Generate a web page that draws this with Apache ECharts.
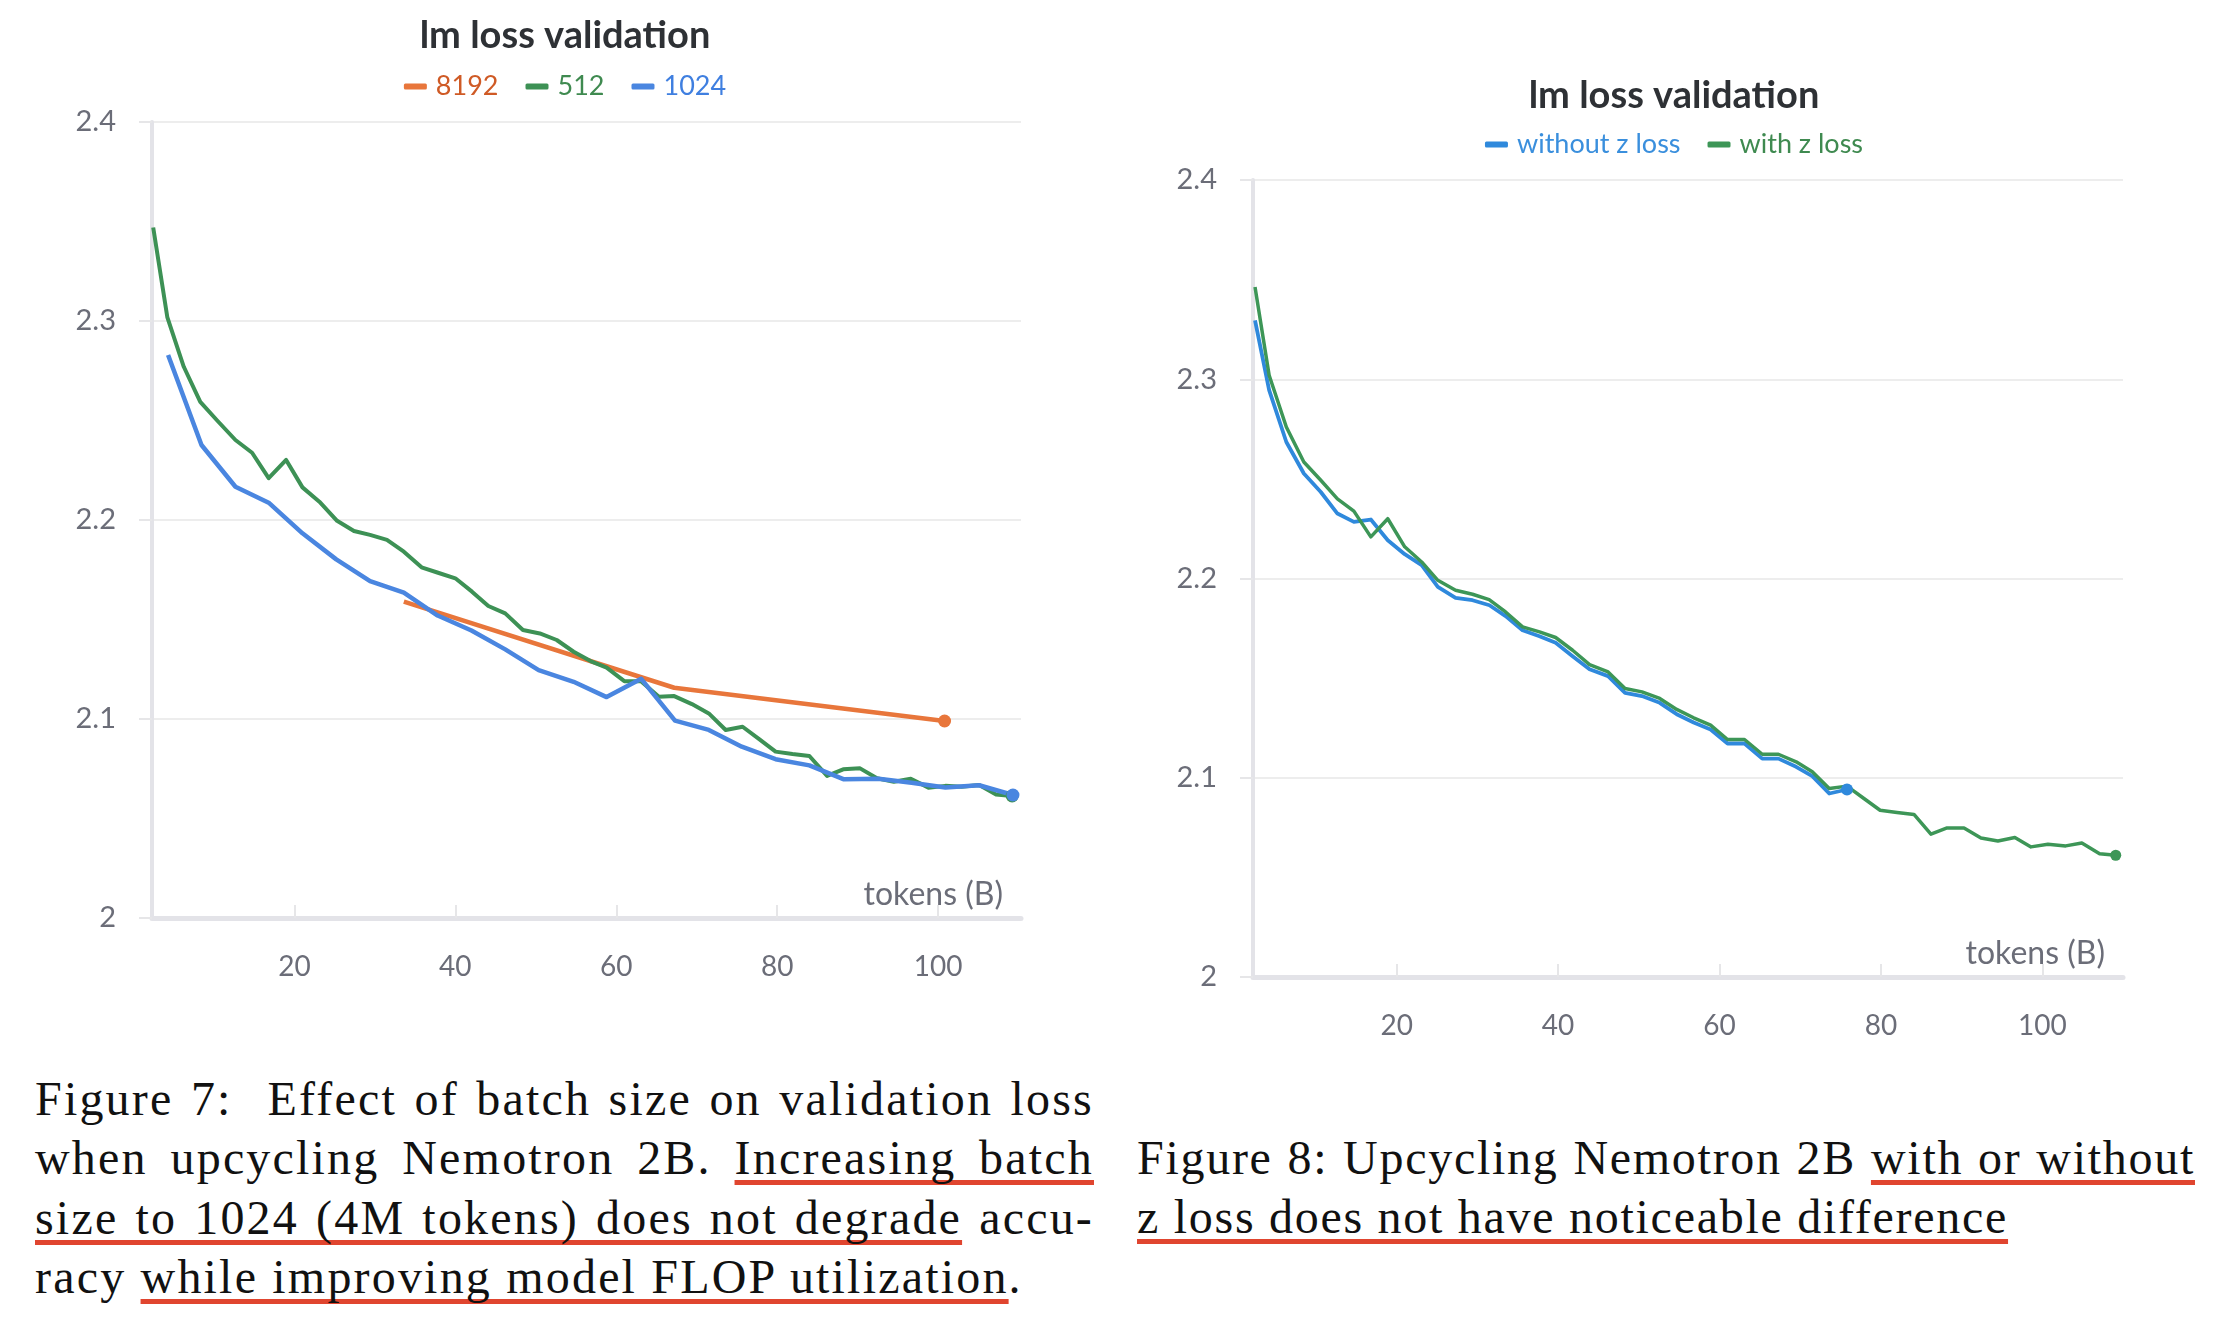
<!DOCTYPE html>
<html>
<head>
<meta charset="utf-8">
<script src="https://cdn.jsdelivr.net/npm/echarts@6/dist/echarts.min.js"></script>
<style>
  html, body { margin: 0; padding: 0; background: #ffffff; }
  body { width: 2228px; height: 1336px; position: relative; overflow: hidden; }
  #c1 { position: absolute; left: 0; top: 0; width: 1130px; height: 1040px; }
  #c2 { position: absolute; left: 1120px; top: 0; width: 1108px; height: 1040px; }
  .cap { position: absolute; font-family: "Liberation Serif", "DejaVu Serif", serif; font-size: 48px; line-height: 59.3px; color: #111; }
  .ln { white-space: nowrap; }
  .j { text-align: justify; text-align-last: justify; }
  .cap u { text-decoration: underline; text-decoration-color: #e0452f; text-decoration-thickness: 5px; text-underline-offset: 6px; text-decoration-skip-ink: none; }
</style>
</head>
<body>
<div id="c1"></div>
<div id="c2"></div>
<div class="cap" id="cap1" style="left:35px; top:1069px; width:1059px;">
  <div class="ln j">Figure 7:&nbsp; Effect of batch size on validation loss</div>
  <div class="ln j">when upcycling Nemotron 2B. <u>Increasing batch</u></div>
  <div class="ln j"><u>size to 1024 (4M tokens) does not degrade</u> accu-</div>
  <div class="ln" id="last1">racy <u>while improving model FLOP utilization</u>.</div>
</div>
<div class="cap" id="cap2" style="left:1137px; top:1128px; width:1058px;">
  <div class="ln j">Figure 8: Upcycling Nemotron 2B <u>with or without</u></div>
  <div class="ln" id="last2"><u>z loss does not have noticeable difference</u></div>
</div>
<script>
// ---------- Figure 7 data (tokens in B, lm loss validation) ----------
const bs8192_x = [33.6, 67.2, 100.8];
const bs8192_y = [2.159, 2.1157, 2.099];

const bs512_x = [2.45, 4.2, 6.25, 8.3, 10.4, 12.67, 14.74, 16.8, 18.97, 21.0, 23.1, 25.3, 27.4, 29.4, 31.5, 33.6, 35.8, 37.85, 40.0, 42.07,
  44.1, 46.2, 48.4, 50.5, 52.6, 54.7, 56.8, 58.8, 61.0, 63.07, 65.3, 67.2, 69.4, 71.5, 73.6, 75.7, 77.8, 79.8, 81.9, 84.0,
  86.2, 88.2, 90.3, 92.4, 94.5, 96.6, 98.8, 100.9, 102.9, 105.1, 107.2, 109.2];
const bs512_y = [2.347, 2.302, 2.277, 2.2594, 2.250, 2.2402, 2.2338, 2.221, 2.2302, 2.2164, 2.2092, 2.1996, 2.1945, 2.1925, 2.190, 2.1841, 2.1762, 2.1735, 2.1707, 2.164,
  2.1568, 2.1531, 2.1447, 2.143, 2.1397, 2.1338, 2.1291, 2.1258, 2.119, 2.119, 2.1112, 2.1115, 2.1075, 2.1028, 2.0945, 2.0961, 2.0898, 2.0836, 2.0824, 2.0814,
  2.0714, 2.0747, 2.0752, 2.0702, 2.0685, 2.070, 2.0655, 2.0664, 2.066, 2.0668, 2.0621, 2.0613];

const bs1024_x = [4.3, 8.45, 12.67, 16.8, 21.0, 25.2, 29.4, 33.6, 37.8, 42.0, 46.2, 50.35, 54.7, 58.8, 63.1, 67.3, 71.5, 75.6, 79.8, 84.0,
  88.3, 92.6, 96.7, 100.9, 105.1, 109.3];
const bs1024_y = [2.2829, 2.2377, 2.2167, 2.2087, 2.1933, 2.1802, 2.1693, 2.1635, 2.152, 2.1445, 2.135, 2.1246, 2.1187, 2.111, 2.1202, 2.0992, 2.0945, 2.0861, 2.0798, 2.0767,
  2.0697, 2.070, 2.068, 2.0656, 2.0667, 2.0618];

// ---------- Figure 8 data ----------
const noz_x = [2.45, 4.2, 6.33, 8.5, 10.6, 12.66, 14.7, 16.8, 18.9, 21.0, 23.1, 25.1, 27.3, 29.4, 31.5, 33.5, 35.6, 37.7, 39.7, 41.8,
  43.9, 46.2, 48.3, 50.4, 52.6, 54.7, 56.8, 58.9, 61.0, 63.1, 65.3, 67.3, 69.5, 71.5, 73.6, 75.8];
const noz_y = [2.3296, 2.2945, 2.2685, 2.2527, 2.2434, 2.2326, 2.2284, 2.2296, 2.2192, 2.2122, 2.2067, 2.1958, 2.1903, 2.1891, 2.1866, 2.1811, 2.174, 2.171, 2.1677, 2.161,
  2.1545, 2.151, 2.1426, 2.141, 2.1376, 2.1319, 2.1277, 2.1242, 2.1172, 2.1172, 2.1096, 2.1096, 2.1055, 2.1008, 2.0921, 2.0941];

const z_x = [2.45, 4.2, 6.33, 8.5, 10.6, 12.66, 14.7, 16.8, 18.9, 21.0, 23.1, 25.1, 27.3, 29.4, 31.46, 33.5, 35.6, 37.7, 39.7, 41.8,
  43.9, 46.2, 48.3, 50.4, 52.6, 54.7, 56.8, 58.9, 61.0, 63.1, 65.3, 67.3, 69.5, 71.5, 73.6, 75.8, 77.9, 79.9, 82.0, 84.1,
  86.2, 88.2, 90.3, 92.4, 94.5, 96.6, 98.6, 100.7, 102.9, 104.9, 107.1, 109.1];
const z_y = [2.3463, 2.302, 2.276, 2.2585, 2.2493, 2.240, 2.2338, 2.2209, 2.230, 2.2159, 2.2083, 2.1991, 2.1941, 2.1921, 2.1894, 2.1832, 2.1757, 2.1732, 2.1704, 2.164,
  2.1568, 2.1531, 2.1448, 2.1431, 2.1398, 2.1343, 2.1301, 2.1264, 2.1192, 2.1192, 2.1118, 2.1118, 2.108, 2.103, 2.0946, 2.0958, 2.0896, 2.0837, 2.0826, 2.0816,
  2.0717, 2.0748, 2.0748, 2.0698, 2.0683, 2.07, 2.0653, 2.0666, 2.0658, 2.0673, 2.0619, 2.0611];

const xTickValues = [20, 40, 60, 80, 100];
const yTickLabels = ['2', '2.1', '2.2', '2.3', '2.4'];

const FONT = 'Lato, "Noto Sans", sans-serif';
const LABEL_COLOR = '#6b6d78';

function zip(xs, ys) { return xs.map((x, i) => [x, ys[i]]); }

function lineSeries(name, xs, ys, color, width, dot) {
  const last = xs.length - 1;
  return {
    type: 'line', name: name, data: zip(xs, ys), color: color,
    lineStyle: { width: width, color: color, join: 'round' },
    symbol: 'circle', showSymbol: true, showAllSymbol: true,
    symbolSize: function (v, p) { return p.dataIndex === last ? dot : 0; },
    itemStyle: { color: color },
    silent: true, animation: false, emphasis: { disabled: true }
  };
}

function baseOption(g, xmin, xmax, titleTop, legendTop, legendItems) {
  return {
    animation: false,
    title: {
      text: 'lm loss validation', left: 'center', top: titleTop,
      textStyle: { fontFamily: FONT, fontWeight: 'bold', fontSize: 38, color: '#2e3135' }
    },
    legend: {
      left: 'center', top: legendTop, icon: 'roundRect', itemWidth: 23, itemHeight: 6, itemGap: 27,
      selectedMode: false,
      textStyle: { fontFamily: FONT, fontSize: 27, padding: [0, 0, 0, 4] },
      data: legendItems.map(it => ({ name: it.name, textStyle: { color: it.color } }))
    },
    grid: g,
    xAxis: {
      type: 'value', min: xmin, max: xmax,
      axisLine: { show: true, onZero: false, lineStyle: { color: '#e3e3e8', width: 5 } },
      axisTick: { show: true, inside: true, length: 13, customValues: xTickValues, lineStyle: { color: '#e6e6e8', width: 2 } },
      axisLabel: { customValues: xTickValues, margin: 35, fontFamily: FONT, fontSize: 28, color: LABEL_COLOR },
      splitLine: { show: false },
      name: 'tokens (B)', nameLocation: 'end', nameGap: -18,
      nameTextStyle: { align: 'right', verticalAlign: 'bottom', padding: [0, 0, 7, 0], fontFamily: FONT, fontSize: 32, color: LABEL_COLOR }
    },
    yAxis: {
      type: 'value', min: 2, max: 2.4, interval: 0.1,
      axisLine: { show: true, onZero: false, lineStyle: { color: '#e3e3e8', width: 4 } },
      axisTick: { show: true, length: 13, lineStyle: { color: '#e6e6e8', width: 2 } },
      axisLabel: {
        margin: 36, fontFamily: FONT, fontSize: 29, color: LABEL_COLOR,
        formatter: function (v) { return yTickLabels[Math.round((v - 2) * 10)]; }
      },
      splitLine: { show: true, lineStyle: { color: '#ededed', width: 2 } }
    }
  };
}

const c1 = echarts.init(document.getElementById('c1'), null, { renderer: 'canvas' });
const opt1 = baseOption({ left: 152, top: 122, width: 869, height: 796 }, 2.3, 110.3, 12, 68, [
  { name: '8192', color: '#cf5a25' }, { name: '512', color: '#3f8a50' }, { name: '1024', color: '#3f7fe0' }
]);
opt1.series = [
  lineSeries('8192', bs8192_x, bs8192_y, '#e8763b', 4.5, 13),
  lineSeries('512', bs512_x, bs512_y, '#3d9155', 4, 13),
  lineSeries('1024', bs1024_x, bs1024_y, '#4a86e0', 4.5, 13)
];
c1.setOption(opt1);

const c2 = echarts.init(document.getElementById('c2'), null, { renderer: 'canvas' });
const opt2 = baseOption({ left: 133, top: 180, width: 870, height: 797 }, 2.2, 110, 72, 126, [
  { name: 'without z loss', color: '#3a8fdd' }, { name: 'with z loss', color: '#3f8a50' }
]);
opt2.series = [
  lineSeries('without z loss', noz_x, noz_y, '#2f89dc', 3.8, 12),
  lineSeries('with z loss', z_x, z_y, '#3d9657', 3.5, 11)
];
c2.setOption(opt2);

// fit each caption's letter spacing so its unjustified last line matches the reference width
(function () {
  const targets = [['cap1', 'last1', 988], ['cap2', 'last2', 871]];
  targets.forEach(([capId, id, w]) => {
    const el = document.getElementById(id);
    const span = document.createElement('span');
    span.innerHTML = el.innerHTML;
    span.style.whiteSpace = 'nowrap';
    el.innerHTML = '';
    el.appendChild(span);
    const natural = span.getBoundingClientRect().width;
    const n = span.textContent.length;
    const ls = Math.max(-1, Math.min(3, (w - natural) / n));
    document.getElementById(capId).style.letterSpacing = ls.toFixed(2) + 'px';
  });
})();
</script>
</body>
</html>
